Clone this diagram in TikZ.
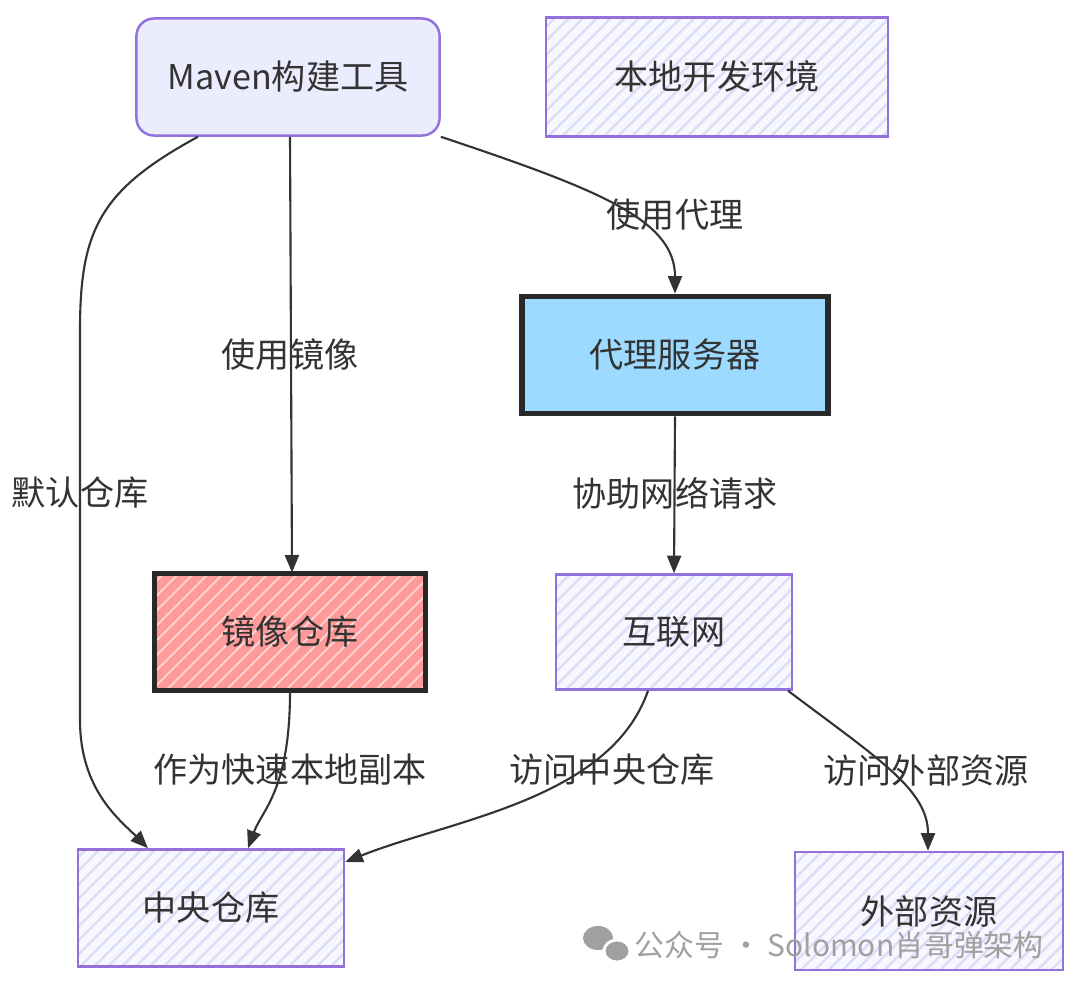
\documentclass[tikz,border=0pt]{standalone}
\usepackage{fontspec}
\setmainfont{Noto Sans CJK SC}
\usetikzlibrary{arrows.meta,patterns.meta}
\definecolor{ink}{HTML}{333333}
\definecolor{lavline}{HTML}{9370DB}
\definecolor{lavfill}{HTML}{ECECFF}
\definecolor{lavpale}{HTML}{F7F7FF}
\definecolor{lavhatch}{HTML}{DDDDF7}
\definecolor{proxyblue}{HTML}{9DDAFF}
\definecolor{mirrorred}{HTML}{FF9A9A}
\definecolor{wmgrey}{HTML}{A0A0A0}

\begin{document}
\begin{tikzpicture}[x=0.01cm,y=-0.01cm,font=\fontsize{9.7}{11}\selectfont]
  \tikzstyle{box}=[rectangle,draw=lavline,line width=0.7pt,text=ink,inner sep=0pt]
  \tikzstyle{hatched}=[box,preaction={fill=lavpale},pattern={Lines[angle=45,distance=2.8pt,line width=0.7pt]},pattern color=lavhatch]
  \tikzstyle{thick box}=[box,draw=ink!80!black,line width=1.6pt]
  \tikzstyle{link}=[draw=ink,line width=0.6pt,-{Triangle[length=5pt,width=4pt]}]
  \tikzstyle{lbl}=[text=ink,inner sep=0pt]

  \useasboundingbox (0,0) rectangle (1080,991);

  % boxes
  \node[box,fill=lavfill,rounded corners=5pt,minimum width=3.03cm,minimum height=1.17cm] (maven) at (288,77) {Maven构建工具};
  \node[hatched,minimum width=3.42cm,minimum height=1.19cm] (localenv) at (717,77) {本地开发环境};
  \node[thick box,fill=proxyblue,minimum width=3.06cm,minimum height=1.17cm] (proxy) at (675,355) {代理服务器};
  \node[thick box,preaction={fill=mirrorred},pattern={Lines[angle=45,distance=3pt,line width=0.5pt]},pattern color=white!60!mirrorred,minimum width=2.71cm,minimum height=1.17cm] (mirror) at (290,632) {镜像仓库};
  \node[hatched,minimum width=2.36cm,minimum height=1.15cm] (internet) at (674,632) {互联网};
  \node[hatched,minimum width=2.66cm,minimum height=1.17cm] (central) at (211,908) {中央仓库};
  \node[hatched,minimum width=2.68cm,minimum height=1.18cm] (external) at (929,911) {外部资源};

  % connectors
  \draw[link] ([xshift=-0.9cm]maven.south) .. controls (100,190) and (80,230) .. (80,330)
    -- (80,720) .. controls (80,790) and (120,820) .. ([xshift=-0.63cm]central.north);
  \draw[link] ([xshift=0.02cm]maven.south) -- ([xshift=0.02cm]mirror.north);
  \draw[link] (maven.south east) .. controls (600,190) and (675,220) .. (proxy.north);
  \draw[link] (proxy.south) -- (internet.north);
  \draw[link] (mirror.south) .. controls (290,790) and (262,810) .. ([xshift=0.37cm]central.north);
  \draw[link] ([xshift=-0.26cm]internet.south) .. controls (610,800) and (450,820) .. ([yshift=0.46cm]central.east);
  \draw[link] ([xshift=1.14cm]internet.south) .. controls (880,760) and (928,790) .. ([xshift=-0.01cm]external.north);

  % labels
  \foreach \name/\x/\y/\txt in {dflt/80/493/默认仓库, usemirror/290/355/使用镜像,
      useproxy/675/215/使用代理, assist/675/493/协助网络请求,
      copy/290/770/作为快速本地副本, viscentral/612/770/访问中央仓库,
      visext/926/770/访问外部资源}
    \node[lbl] (L-\name) at (\x,\y) {\txt};

  % watermark
  \fill[wmgrey] (598,938) ellipse [x radius=15,y radius=12];
  \fill[wmgrey,draw=white,line width=0.8pt] (617,951) ellipse [x radius=13,y radius=11];
  \node[text=wmgrey,font=\fontsize{8.5}{10}\selectfont,anchor=west,inner sep=0pt] (wm) at (634,945) {公众号 · Solomon肖哥弹架构};
\end{tikzpicture}
\end{document}
